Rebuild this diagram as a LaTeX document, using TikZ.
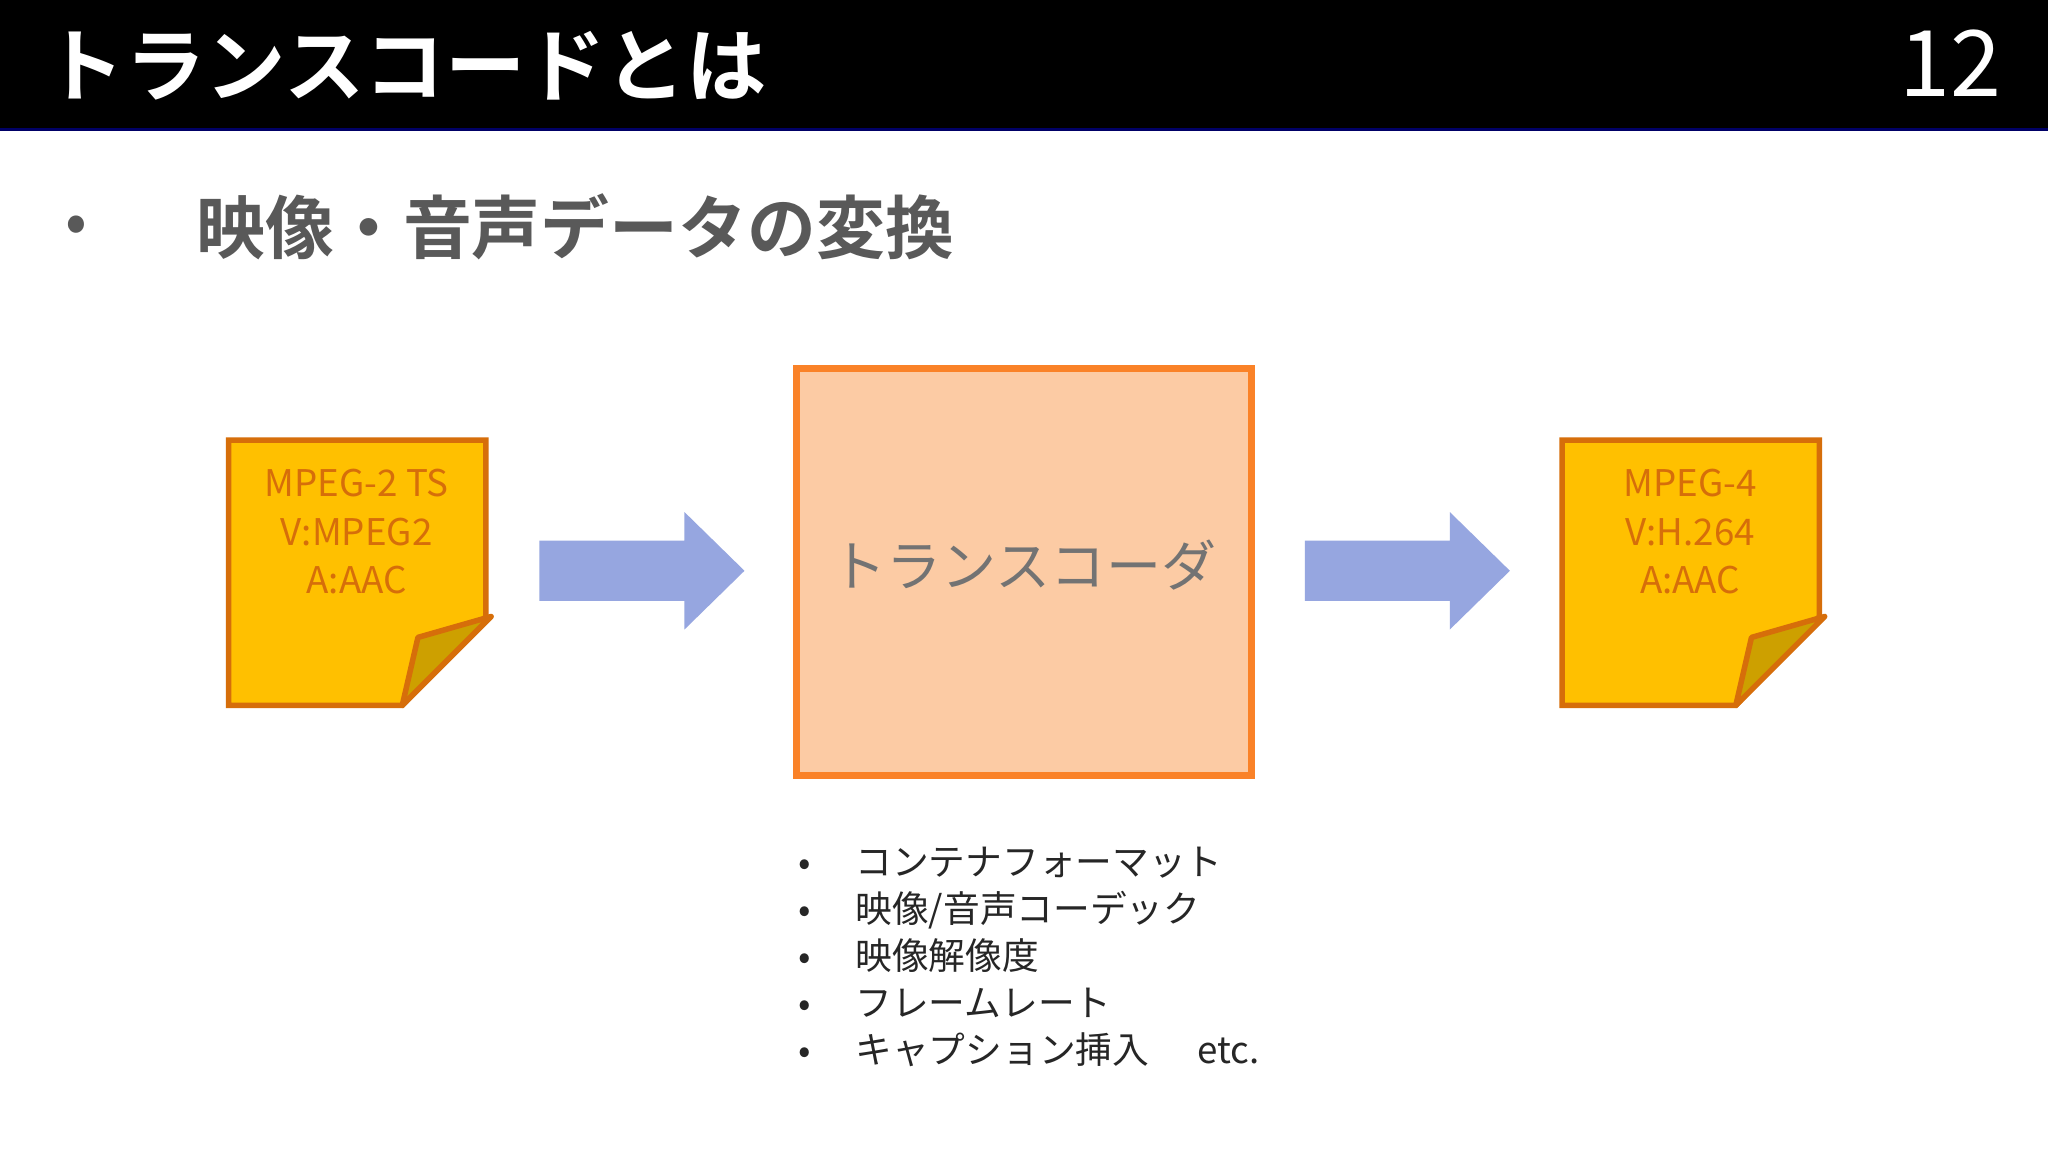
\documentclass[tikz,border=0pt]{standalone}
\usepackage{fontspec}
\setmainfont{Noto Sans CJK JP}
\newfontfamily\jpb{Noto Sans CJK JP Bold}
\definecolor{arrowc}{RGB}{150,166,224}
\definecolor{notef}{RGB}{255,192,0}
\definecolor{noted}{RGB}{214,110,10}
\definecolor{foldf}{RGB}{205,160,0}
\definecolor{tcf}{RGB}{252,203,164}
\definecolor{tcd}{RGB}{250,130,40}
\begin{document}
\begin{tikzpicture}[x=0.1mm,y=-0.1mm,
  note/.style={fill=notef,draw=noted,line width=1.2pt},
  fold/.style={fill=foldf,draw=noted,line width=1.2pt,line join=round},
  ntext/.style={font=\fontsize{8}{10.6}\selectfont,text=noted,align=center},
  bigarrow/.style={fill=arrowc,draw=none}]
\useasboundingbox (0,0) rectangle (1568,882);
\fill[white] (0,0) rectangle (1568,882);
\fill[black] (0,0) rectangle (1568,99);
\draw[blue!40!black,line width=0.6pt] (0,99) -- (1568,99);
\node[anchor=west,text=white,font=\jpb\fontsize{17.5}{20}\selectfont] (title) at (22,50) {トランスコードとは};
\node[anchor=east,text=white,font=\fontsize{20}{24}\selectfont] (num) at (1545,48) {12};
\node[anchor=west,text=black!65,font=\fontsize{14}{16}\selectfont] (b) at (38,176) {•};
\node[anchor=west,text=black!65,font=\jpb\fontsize{15}{18}\selectfont] (sub) at (138,174) {映像・音声データの変換};
% left note
\draw[note] (175,337) -- (372,337) -- (372,472) -- (308,540) -- (175,540) -- cycle;
\draw[fold] (376,472) -- (320,488) -- (308,540) -- cycle;
\node[ntext] (n1) at (273,407) {MPEG-2 TS\\V:MPEG2\\A:AAC};
% right note
\draw[note] (1196,337) -- (1393,337) -- (1393,472) -- (1329,540) -- (1196,540) -- cycle;
\draw[fold] (1397,472) -- (1341,488) -- (1329,540) -- cycle;
\node[ntext] (n2) at (1294,407) {MPEG-4\\V:H.264\\A:AAC};
% transcoder
\draw[draw=tcd,fill=tcf,line width=1.5pt] (610,282) rectangle (958,594);
\node[text=black!55,font=\fontsize{12}{14}\selectfont] (tc) at (784,433) {トランスコーダ};
% arrows
\fill[bigarrow] (413,414) -- (524,414) -- (524,392) -- (570,437) -- (524,482) -- (524,460) -- (413,460) -- cycle;
\fill[bigarrow] (999,414) -- (1110,414) -- (1110,392) -- (1156,437) -- (1110,482) -- (1110,460) -- (999,460) -- cycle;
% list
\node[anchor=north west,align=left,font=\fontsize{8}{10.2}\selectfont,text=black!85,inner sep=0] (list) at (611,648)
 {•\hspace{1.2em}コンテナフォーマット\\•\hspace{1.2em}映像/音声コーデック\\•\hspace{1.2em}映像解像度\\•\hspace{1.2em}フレームレート\\•\hspace{1.2em}キャプション挿入\hspace{1.3em}etc.};
\end{tikzpicture}
\end{document}
